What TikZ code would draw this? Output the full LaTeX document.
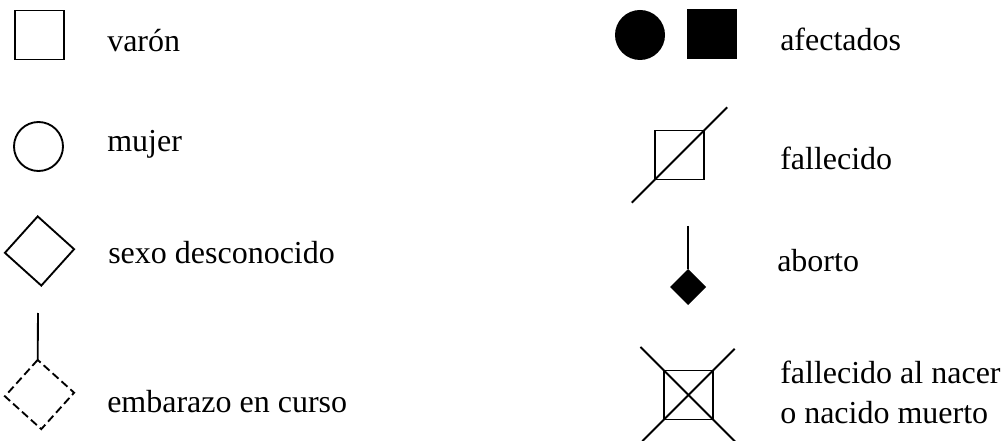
\documentclass[tikz,border=0pt]{standalone}
\usepackage{fontspec}
\setmainfont{Liberation Serif}
\usetikzlibrary{positioning}
\tikzset{
  sym/.style={rectangle, draw, line width=1.4pt, inner sep=0pt, outer sep=0pt, minimum size=36.75pt},
  male/.style={sym},
  female/.style={sym, circle},
  unk/.style={sym, rotate=48},
  preg/.style={unk, dash pattern=on 6pt off 3pt},
  aff/.style={sym, draw=none, fill=black, minimum size=37.5pt},
  abort/.style={sym, draw=none, fill=black, rotate=45, minimum size=19.1pt},
  stem/.style={line width=1.4pt},
  dead/.style={line width=1.4pt, shorten <=-#1, shorten >=-#1},
  lbl/.style={anchor=base west, inner sep=0pt, font=\fontsize{24}{29}\selectfont},
}

\begin{document}
\begin{tikzpicture}[x=0.75pt,y=-0.75pt]
 \useasboundingbox (0,0) rectangle (1005,441);
 % left column
 \node[male] (m) at (39.5,35) {};
 \node[lbl] (lm) at (107,52) {varón};
 \node[female] (f) at (38.5,146.5) {};
 \node[lbl] (lf) at (107,152) {mujer};
 \node[unk] (u) at (39.5,251) {};
 \node[lbl] (lu) at (108,264) {sexo desconocido};
 \node[preg] (p) at (39.5,394.5) {};
 \coordinate (ptop) at (38,313);
 \draw[stem] (ptop) -- (p.north east);
 \node[lbl] (lp) at (107,412) {embarazo en curso};
 % right column
 \node[aff, circle] (ac) at (640,35) {};
 \node[aff] (as) at (712,34.5) {};
 \node[lbl] (la) at (780,51) {afectados};
 \node[male] (d) at (679.5,155) {};
 \draw[dead=24.6pt] (d.south west) -- (d.north east);
 \node[lbl] (ld) at (780,170) {fallecido};
 \node[abort] (ab) at (688,287) {};
 \coordinate (abtop) at (688,226);
 \draw[stem] (abtop) -- (ab.north east);
 \node[lbl] (lab) at (777,272) {aborto};
 \node[male] (sb) at (688.5,395) {};
 \draw[dead=25pt] (sb.north west) -- (sb.south east);
 \draw[dead=23pt] (sb.south west) -- (sb.north east);
 \node[lbl] (lsb) at (780,383) {fallecido al nacer};
 \node[lbl] (lsb2) at (780,423) {o nacido muerto};
\end{tikzpicture}
\end{document}
